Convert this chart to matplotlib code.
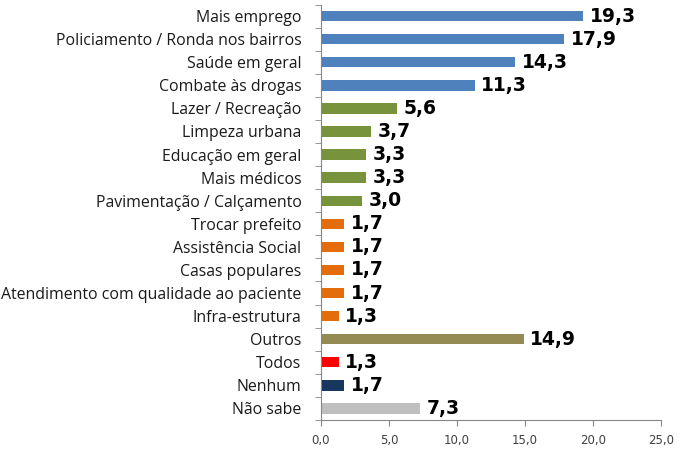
import numpy as np
import matplotlib.pyplot as plt

# dados do gráfico (de cima para baixo)
categorias = ['Mais emprego', 'Policiamento / Ronda nos bairros', 'Saúde em geral',
              'Combate às drogas', 'Lazer / Recreação', 'Limpeza urbana',
              'Educação em geral', 'Mais médicos', 'Pavimentação / Calçamento',
              'Trocar prefeito', 'Assistência Social', 'Casas populares',
              'Atendimento com qualidade ao paciente', 'Infra-estrutura',
              'Outros', 'Todos', 'Nenhum', 'Não sabe']
valores = [19.3, 17.9, 14.3, 11.3, 5.6, 3.7, 3.3, 3.3, 3.0,
           1.7, 1.7, 1.7, 1.7, 1.3, 14.9, 1.3, 1.7, 7.3]
cores = (['#4F81BD'] * 4 + ['#77933C'] * 5 + ['#E46C0A'] * 5 +
         ['#948A54', '#FF0000', '#17375E', '#BFBFBF'])
ticks_x = [0, 5, 10, 15, 20, 25]

fig, ax = plt.subplots(figsize=(6.9, 4.54), dpi=100)
fig.subplots_adjust(left=0.465, right=0.958, top=0.99, bottom=0.075)

y = np.arange(len(categorias))
ax.barh(y, valores, height=0.45, color=cores)
ax.set_ylim(len(categorias) - 0.5, -0.5)
ax.set_xlim(0, 25)

ax.set_yticks(y)
ax.set_yticklabels(categorias, fontsize=11.4, family='Open Sans', color='#1a1a1a')
ax.set_yticks(np.arange(-0.5, len(categorias)), minor=True)
ax.tick_params(axis='y', which='major', length=0, pad=14)
ax.tick_params(axis='y', which='minor', length=4, color='#868686', direction='out')

ax.set_xticks(ticks_x)
ax.set_xticklabels([f'{t:.1f}'.replace('.', ',') for t in ticks_x], fontsize=8.5, color='#404040')
ax.tick_params(axis='x', length=4, color='#868686', direction='out', pad=6)

for s in ['top', 'right']:
    ax.spines[s].set_visible(False)
for s in ['left', 'bottom']:
    ax.spines[s].set_color('#868686')

for yi, v in zip(y, valores):
    ax.text(v + 0.5, yi, f'{v:.1f}'.replace('.', ','), va='center', ha='left',
            fontsize=13.5, fontweight='bold', color='black')

fig.savefig('out.png', dpi=100)
